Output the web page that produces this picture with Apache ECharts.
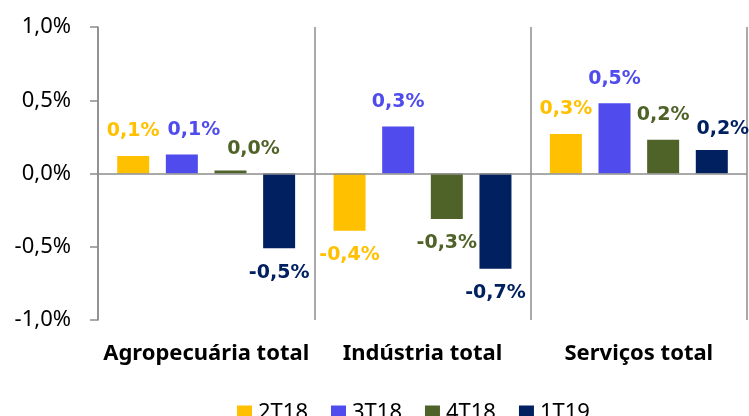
<html>
    <head>
        <meta charset="utf-8">
        <script src='https://cdn.jsdelivr.net/npm/echarts@6/dist/echarts.min.js'></script>
    </head>
    <body>
        <style>
            html, body, #main {
                width: 100%;
                height: 100%;
                margin: 0;
                background: #fff;
            }
        </style>
        <div id='main'></div>
        <script>
            var categories = ['Agropecuária total', 'Indústria total', 'Serviços total'];
            var seriesNames = ['2T18', '3T18', '4T18', '1T19'];
            var v2T18 = [0.12, -0.39, 0.27];
            var v3T18 = [0.13, 0.32, 0.48];
            var v4T18 = [0.02, -0.31, 0.23];
            var v1T19 = [-0.51, -0.65, 0.16];

            var colors = ['#FFC000', '#4F4BEC', '#4F6228', '#002060'];
            // a few labels were nudged sideways in the original
            var labelShift = {
                '1-0': [12, 0],
                '2-0': [23, 3],
                '3-2': [11, 4]
            };

            function pct(v) {
                return v.toFixed(1).replace('.', ',') + '%';
            }

            var chart = echarts.init(document.getElementById('main'));

            var series = [v2T18, v3T18, v4T18, v1T19].map(function (vals, s) {
                return {
                    name: seriesNames[s],
                    type: 'bar',
                    barWidth: 32,
                    barGap: '52%',
                    itemStyle: { color: colors[s] },
                    label: {
                        show: true,
                        distance: 15,
                        color: colors[s],
                        fontFamily: 'DejaVu Sans',
                        fontWeight: 'bold',
                        fontSize: 19,
                        formatter: function (p) { return pct(p.value); }
                    },
                    data: vals.map(function (v, i) {
                        var sh = labelShift[s + '-' + i] || [0, 0];
                        return {
                            value: v,
                            label: {
                                position: v < 0 ? 'bottom' : 'top',
                                offset: sh
                            }
                        };
                    }),
                    markLine: s === 0 ? {
                        silent: true,
                        symbol: 'none',
                        label: { show: false },
                        lineStyle: { color: '#8c8c8c', width: 1.5, type: 'solid' },
                        data: [{ yAxis: 0 }]
                    } : undefined
                };
            });

            var option = {
                animation: false,
                grid: { left: 98, right: 2, top: 27, bottom: 96 },
                legend: {
                    data: seriesNames,
                    left: 232,
                    top: 397,
                    icon: 'rect',
                    itemWidth: 15,
                    itemHeight: 15,
                    itemGap: 23,
                    textStyle: { fontFamily: 'Noto Sans', fontSize: 22, color: '#000', padding: [0, 0, 0, 1] }
                },
                xAxis: {
                    type: 'category',
                    data: categories,
                    axisLine: { show: false, onZero: false },
                    axisTick: { show: false, interval: 0 },
                    splitLine: { show: true, interval: 0, lineStyle: { color: '#8c8c8c', width: 1.5 } },
                    axisLabel: {
                        interval: 0,
                        margin: 23,
                        fontFamily: 'Noto Sans',
                        fontWeight: 'bold',
                        fontSize: 22,
                        color: '#000'
                    }
                },
                yAxis: {
                    type: 'value',
                    min: -1,
                    max: 1,
                    interval: 0.5,
                    axisLine: { show: true, lineStyle: { color: '#8c8c8c', width: 1.5 } },
                    axisTick: { show: true, length: 8, lineStyle: { color: '#8c8c8c', width: 1.5 } },
                    splitLine: { show: false },
                    axisLabel: {
                        margin: 27,
                        fontFamily: 'Noto Sans',
                        fontSize: 22,
                        color: '#000',
                        formatter: pct
                    }
                },
                series: series
            };

            chart.setOption(option);

            window.onresize = function () {
                chart.resize();
            }
        </script>
    </body>
</html>
